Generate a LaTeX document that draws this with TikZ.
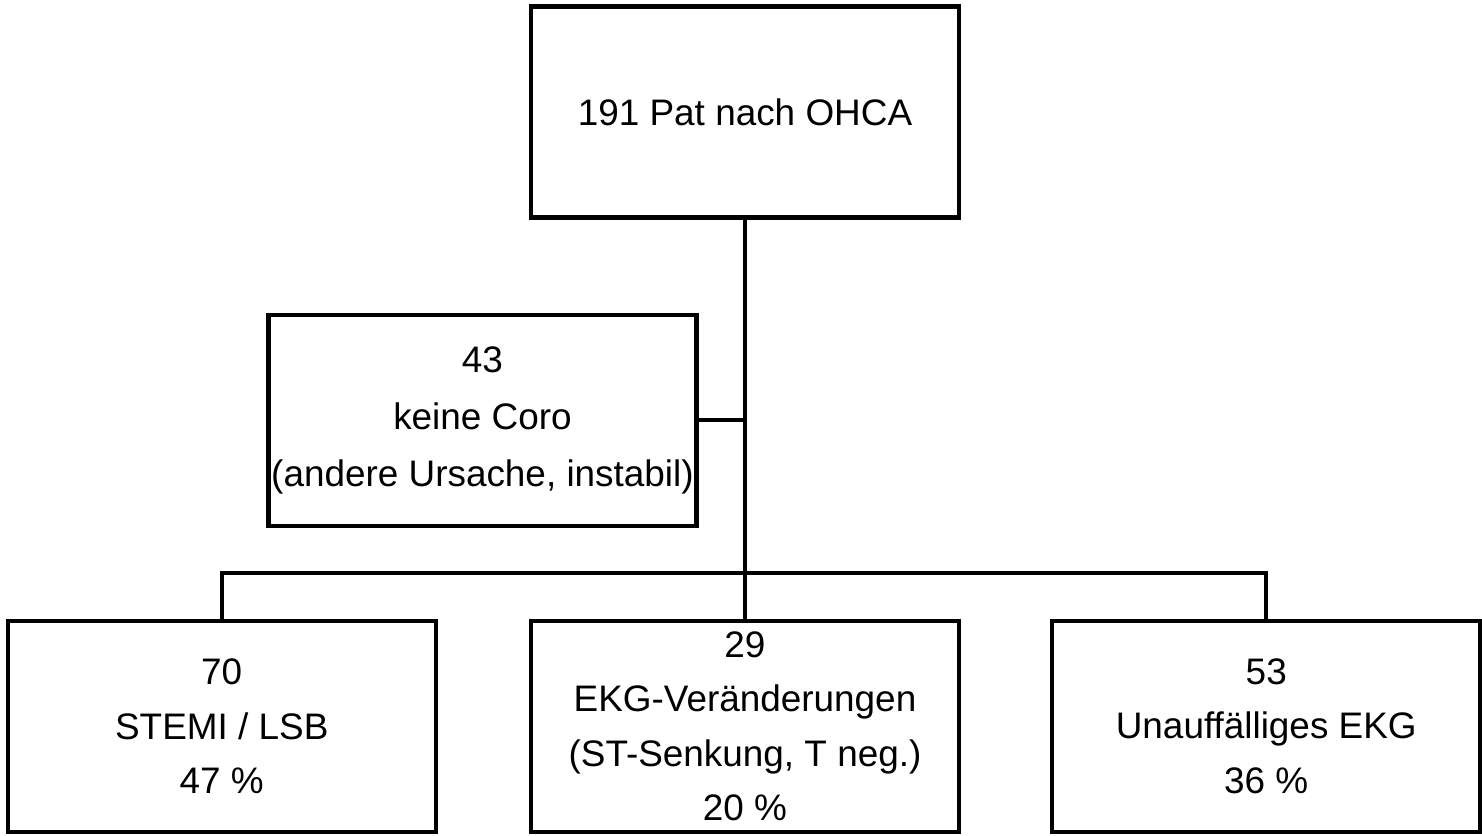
\documentclass[tikz,border=0pt]{standalone}
\usepackage{fontspec}
\setmainfont{Liberation Sans}
\usetikzlibrary{positioning}

\begin{document}
\begin{tikzpicture}[
      node distance=1.82cm,
      box/.style={rectangle,draw=black,line width=0.085cm,
                  minimum width=8.56cm,minimum height=4.22cm,inner sep=1pt,
                  font=\fontsize{21}{31}\selectfont,align=center},
      link/.style={line width=0.085cm,color=black}
    ]
      \useasboundingbox (0,0) rectangle (29.64,-16.7);
      \node[box] (ohca) at (14.9,-2.24) {191 Pat nach OHCA};
      \node[box,below=1.86cm of ohca,xshift=-5.25cm,
            font=\fontsize{21}{32.5}\selectfont] (coro) {43\\keine Coro\\(andere Ursache, instabil)};
      \node[box,below=7.98cm of ohca] (ekg) {29\\EKG-Veränderungen\\(ST-Senkung, T neg.)\\20 \%};
      \node[box,left=of ekg] (stemi) {70\\STEMI / LSB\\47 \%};
      \node[box,right=1.78cm of ekg] (normal) {53\\Unauffälliges EKG\\36 \%};
      \coordinate[above=0.92cm of ekg] (bus);

      \draw[link] (ohca.south) -- (ekg.north);
      \draw[link] (coro.east) -- (coro.east -| ohca.south);
      \draw[link] (stemi.north) |- (bus) -| (normal.north);
    \end{tikzpicture}
\end{document}
